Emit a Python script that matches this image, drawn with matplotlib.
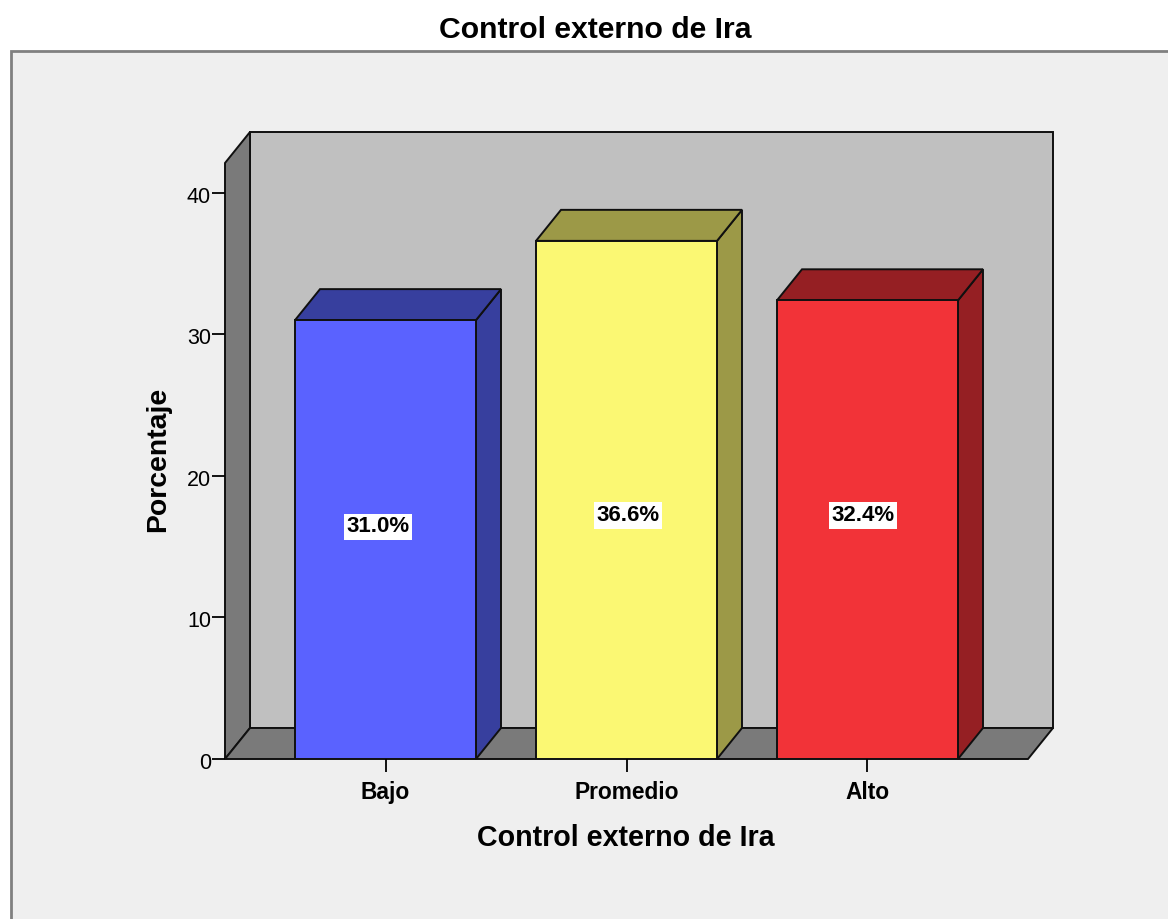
#!/bin/python

import matplotlib.pyplot as plt
from matplotlib.patches import Polygon, Rectangle
from matplotlib.transforms import ScaledTranslation

categorias = ['Bajo', 'Promedio', 'Alto']
porcentajes = [31.0, 36.6, 32.4]
etiquetas = ['31.0%', '36.6%', '32.4%']
etiqueta_x = [-0.031, 1.006, 1.981]
etiqueta_y = [16.4, 17.2, 17.2]
y_ticks = [0, 10, 20, 30, 40]

colores = ['#5a62ff', '#fbf873', '#f23338']
colores_osc = ['#373f9e', '#9c9947', '#951f23']

W, H = 1168, 919
plt.rcParams['font.family'] = ['Liberation Sans', 'DejaVu Sans']

fig = plt.figure(figsize=(W / 100, H / 100), dpi=100)

# panel gris de fondo
fig.add_artist(Rectangle((10.5 / W, -0.01), 1.1, (919 - 50.5) / H + 0.01, transform=fig.transFigure,
                         facecolor='#efefef', edgecolor='#808080', linewidth=2, zorder=-1))

ax = fig.add_axes([225 / W, (H - 759) / H, 803 / W, 596 / H])
ax.set_xlim(-0.666, 2.666)
ax.set_ylim(0, 42.1)
ax.patch.set_visible(False)

# profundidad del efecto 3D, en unidades de los ejes
dx = 25 / 241
dy = 31 / 14.15
x0, x1 = ax.get_xlim()
y0, y1 = ax.get_ylim()


def poly(puntos, color, z):
    ax.add_patch(Polygon(puntos, closed=True, facecolor=color, edgecolor='#101010',
                         linewidth=1.4, clip_on=False, zorder=z))


# paredes
poly([(x0 + dx, y0 + dy), (x1 + dx, y0 + dy), (x1 + dx, y1 + dy), (x0 + dx, y1 + dy)], '#c0c0c0', 1)
poly([(x0, y0), (x0 + dx, y0 + dy), (x0 + dx, y1 + dy), (x0, y1)], '#7a7a7a', 1)
poly([(x0, y0), (x1, y0), (x1 + dx, y0 + dy), (x0 + dx, y0 + dy)], '#7a7a7a', 1)

ancho = 0.751
barras = ax.bar(range(len(categorias)), porcentajes, width=ancho, color=colores,
                edgecolor='#101010', linewidth=1.4, zorder=3)

for i, b in enumerate(barras):
    izq = b.get_x()
    der = izq + b.get_width()
    alto = b.get_height()
    poly([(der, 0), (der + dx, dy), (der + dx, alto + dy), (der, alto)], colores_osc[i], 2)
    poly([(izq, alto), (der, alto), (der + dx, alto + dy), (izq + dx, alto + dy)], colores_osc[i], 2)
    ax.text(etiqueta_x[i], etiqueta_y[i], etiquetas[i], ha='center', va='center', fontsize=16,
            fontweight='bold', zorder=5, bbox=dict(facecolor='white', edgecolor='none', pad=2))

for lado in ['top', 'right', 'left', 'bottom']:
    ax.spines[lado].set_visible(False)

ax.set_xticks(range(len(categorias)))
ax.set_xticklabels(categorias, fontsize=16.4, fontweight='bold')
ax.tick_params(axis='x', length=9.5, width=1.3, pad=6)
ax.set_yticks(y_ticks)
ax.tick_params(axis='y', length=9.5, width=1.3, labelsize=15.5, pad=0.5)

# las etiquetas del eje y van un poco mas abajo
bajar = ScaledTranslation(0, -2 / 100, fig.dpi_scale_trans)
for t in ax.get_yticklabels():
    t.set_transform(t.get_transform() + bajar)

fig.text(595 / W, (H - 30) / H, 'Control externo de Ira', ha='center', va='center',
         fontsize=21.7, fontweight='bold')
fig.text(626 / W, (H - 838) / H, 'Control externo de Ira', ha='center', va='center',
         fontsize=20.6, fontweight='bold')
fig.text(158 / W, (H - 459) / H, 'Porcentaje', ha='center', va='center', rotation=90,
         fontsize=20.4, fontweight='bold')

fig.savefig('out.png', dpi=100)
